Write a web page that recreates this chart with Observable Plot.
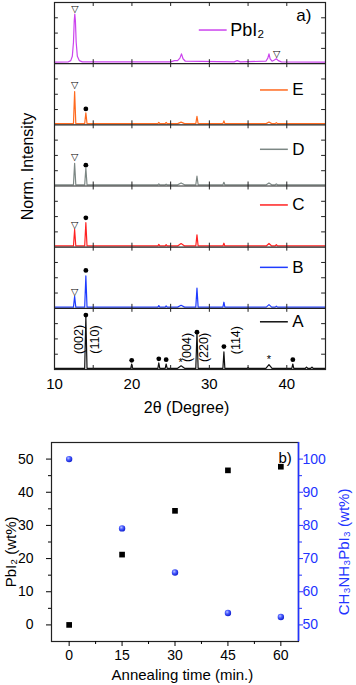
<!DOCTYPE html>
<html><head><meta charset="utf-8">
<script src="https://cdn.jsdelivr.net/npm/d3@7"></script>
<script src="https://cdn.jsdelivr.net/npm/@observablehq/plot@0.6"></script>
<style>body{margin:0;background:#fff;} svg{display:block;}</style>
</head><body><div id="chart"></div>
<script>
// ---------- Panel a) XRD patterns (bottom to top) ----------
const samples = ["A", "B", "C", "D", "E", "PbI2"];
const sampleLabels = ["A", "B", "C", "D", "E", "PbI₂"];
const sampleColors = ["#111111", "#1f3cff", "#ff2222", "#7c8784", "#ff6a1f", "#cc44ee"];

// [2θ (deg), normalized intensity within panel]
const patternA = [[10,0.02],[13.9,0.02],[14.05,0.86],[14.2,0.02],[19.85,0.02],[19.97,0.09],[20.1,0.02],[23.35,0.02],[23.47,0.11],[23.6,0.02],[24.3,0.02],[24.42,0.09],[24.55,0.02],[25.9,0.02],[26.35,0.06],[26.8,0.02],[28.25,0.02],[28.4,0.6],[28.55,0.02],[31.75,0.02],[31.88,0.29],[32.0,0.02],[34.9,0.02],[35.0,0.035],[35.1,0.02],[37.3,0.02],[37.7,0.08],[38.1,0.02],[40.65,0.02],[40.78,0.09],[40.9,0.02],[42.4,0.02],[42.55,0.04],[42.7,0.02],[43.1,0.02],[43.25,0.04],[43.4,0.02],[45,0.02]];
const patternB = [[10,0.02],[12.45,0.02],[12.6,0.195],[12.75,0.02],[13.9,0.02],[14.05,0.53],[14.2,0.02],[23.35,0.02],[23.47,0.045],[23.6,0.02],[24.3,0.02],[24.42,0.04],[24.55,0.02],[25.9,0.02],[26.35,0.05],[26.8,0.02],[28.25,0.02],[28.4,0.33],[28.55,0.02],[31.75,0.02],[31.88,0.1],[32.0,0.02],[37.35,0.02],[37.7,0.06],[38.05,0.02],[38.5,0.02],[38.65,0.035],[38.8,0.02],[45,0.02]];
const patternC = [[10,0.02],[12.45,0.02],[12.6,0.29],[12.75,0.02],[13.9,0.02],[14.05,0.40],[14.2,0.02],[23.35,0.02],[23.47,0.045],[23.6,0.02],[24.3,0.02],[24.42,0.04],[24.55,0.02],[25.9,0.02],[26.35,0.06],[26.8,0.02],[28.25,0.02],[28.4,0.20],[28.55,0.02],[31.75,0.02],[31.88,0.065],[32.0,0.02],[37.35,0.02],[37.7,0.06],[38.05,0.02],[38.5,0.02],[38.65,0.04],[38.8,0.02],[45,0.02]];
const patternD = [[10,0.02],[12.45,0.02],[12.6,0.37],[12.75,0.02],[13.9,0.02],[14.05,0.29],[14.2,0.02],[23.35,0.02],[23.47,0.035],[23.6,0.02],[24.3,0.02],[24.42,0.03],[24.55,0.02],[25.9,0.02],[26.35,0.05],[26.8,0.02],[28.25,0.02],[28.4,0.16],[28.55,0.02],[31.75,0.02],[31.88,0.06],[32.0,0.02],[37.35,0.02],[37.7,0.05],[38.05,0.02],[38.5,0.02],[38.65,0.035],[38.8,0.02],[45,0.02]];
const patternE = [[10,0.02],[12.45,0.02],[12.6,0.545],[12.75,0.02],[13.9,0.02],[14.05,0.196],[14.2,0.02],[23.35,0.02],[23.47,0.04],[23.6,0.02],[24.3,0.02],[24.42,0.04],[24.55,0.02],[25.9,0.02],[26.35,0.045],[26.8,0.02],[28.25,0.02],[28.4,0.14],[28.55,0.02],[31.75,0.02],[31.88,0.065],[32.0,0.02],[37.35,0.02],[37.7,0.045],[38.05,0.02],[38.5,0.02],[38.65,0.035],[38.8,0.02],[45,0.02]];
const patternPbI2 = [[10,0.025],[11.8,0.03],[12.1,0.05],[12.3,0.12],[12.45,0.35],[12.55,0.7],[12.62,0.81],[12.7,0.7],[12.8,0.35],[12.95,0.12],[13.2,0.05],[13.6,0.03],[25.0,0.03],[25.5,0.05],[25.9,0.05],[26.2,0.09],[26.4,0.16],[26.6,0.08],[26.9,0.04],[33.2,0.03],[33.6,0.05],[34.0,0.03],[37.3,0.04],[37.55,0.09],[37.7,0.16],[37.85,0.08],[38.1,0.04],[38.4,0.06],[38.65,0.08],[38.9,0.05],[39.3,0.03],[45,0.025]];
const patterns = [patternA, patternB, patternC, patternD, patternE, patternPbI2];

// phase markers: [sample, 2θ, height in panel]
const pbi2Markers = [["PbI2",12.62,0.90],["PbI2",38.68,0.16],["E",12.6,0.65],["D",12.6,0.48],["C",12.6,0.37],["B",12.6,0.26]];
const perovskiteMarkers = [["E",14.05,0.26],["D",14.05,0.34],["C",14.05,0.48],["B",14.05,0.62],["A",14.05,0.89],["A",19.97,0.15],["A",23.47,0.175],["A",24.42,0.16],["A",28.4,0.61],["A",31.88,0.375],["A",40.78,0.16]];
const starMarkers = [["A",26.3,0.16],["A",37.7,0.21]];
const hklLabels = [["(002)",13.1,0.49],["(110)",15.2,0.49],["(004)",27.15,0.36],["(220)",29.25,0.36],["(114)",33.5,0.48]];
const xTicksTop = [10, 20, 30, 40];
const xMinorTop = [15, 20, 25, 30, 35, 40];

// ---------- Panel b) wt% vs annealing time ----------
const annealTime = [0, 15, 30, 45, 60];
const pbi2Wt = [0, 21.2, 34.4, 46.6, 47.7];
const mapiWt = [100, 79.1, 65.8, 53.6, 52.4];
const timeTicks = [0, 15, 30, 45, 60];
const leftTicks = [0, 10, 20, 30, 40, 50];
const rightTicks = [50, 60, 70, 80, 90, 100];

const font = "'Liberation Sans', Arial, Helvetica, sans-serif";
const idx = s => samples.indexOf(s);

const rows = patterns.flatMap((p, i) => p.map(([deg, v]) => ({sample: samples[i], deg, y: i + v})));
const tickLen = 0.065; // ~4px in panel units
const bTicks = [];
for (let b = 0; b <= 6; b++) for (const d of xMinorTop) bTicks.push({x: d, y1: Math.max(0, b - tickLen), y2: Math.min(6, b + tickLen)});
const yTicks = [];
for (let i = 0; i < 6; i++) for (const f of [0.25, 0.5, 0.75]) yTicks.push(i + f);

const legendPos = {A: 0.78, B: 0.67, C: 0.69, D: 0.60, E: 0.57, PbI2: 0.55};
const legendRows = samples.map((s, i) => ({
  sample: s, label: sampleLabels[i], y: i + legendPos[s],
  x1: s === "PbI2" ? 28.7 : 36.6, x2: s === "PbI2" ? 32.3 : 40.2,
  xt: s === "PbI2" ? 32.7 : 40.7, fs: s === "PbI2" ? 18 : 17
}));

const topChart = Plot.plot({
  width: 356, height: 425,
  marginTop: 2, marginBottom: 56, marginLeft: 54, marginRight: 31,
  x: {domain: [10, 45]},
  y: {domain: [0, 6], axis: null},
  color: {domain: samples, range: sampleColors},
  style: {fontFamily: font, fontSize: "15px", color: "black", background: "white"},
  marks: [
    Plot.line(rows, {x: "deg", y: "y", z: "sample", stroke: "sample", strokeWidth: 1.2}),
    Plot.ruleY([1, 2, 3, 4, 5], {stroke: "#222", strokeWidth: 1.2}),
    Plot.frame({stroke: "#222", strokeWidth: 1.2}),
    Plot.ruleX(bTicks, {x: "x", y1: "y1", y2: "y2", stroke: "#222"}),
    Plot.ruleY(yTicks, {x1: 10, x2: 10.5, stroke: "#222"}),
    Plot.ruleY(yTicks, {x1: 44.5, x2: 45, stroke: "#222"}),
    Plot.axisX({ticks: xTicksTop, tickSize: 0, tickPadding: 9, fontSize: 15, label: null}),
    Plot.text(["2θ (Degree)"], {frameAnchor: "bottom", x: () => 27.05, dy: 38, fontSize: 16, lineAnchor: "middle"}),
    Plot.text(["Norm. Intensity"], {frameAnchor: "left", y: () => 3.32, dx: -27, rotate: -90, fontSize: 16, textAnchor: "middle", lineAnchor: "middle"}),
    Plot.ruleY(legendRows, {y: "y", x1: "x1", x2: "x2", stroke: "sample", strokeWidth: 1.5}),
    Plot.text(legendRows, {y: "y", x: "xt", text: "label", textAnchor: "start", fontSize: "fs"}),
    Plot.text(["a)"], {x: () => 42.2, y: () => 5.78, fontSize: 17}),
    Plot.text(pbi2Markers, {x: d => d[1], y: d => idx(d[0]) + d[2], text: () => "▽", fontSize: 9.5, fontFamily: "DejaVu Sans"}),
    Plot.dot(perovskiteMarkers, {x: d => d[1], y: d => idx(d[0]) + d[2], r: 2.4, fill: "black"}),
    Plot.text(starMarkers, {x: d => d[1], y: d => idx(d[0]) + d[2], text: () => "*", fontSize: 11, dy: 3}),
    Plot.text(hklLabels, {x: d => d[1], y: d => idx("A") + d[2], text: d => d[0], rotate: -90, fontSize: 12.5})
  ]
});

const blue = "#2233ff";
const bottomPts = annealTime.map((t, i) => ({t, pbi2: pbi2Wt[i], mapi: mapiWt[i]}));
const bottomChart = Plot.plot({
  width: 356, height: 260,
  marginTop: 17, marginBottom: 44, marginLeft: 51, marginRight: 58,
  x: {domain: [-5, 65]},
  y: {domain: [-5, 55]},
  style: {fontFamily: font, fontSize: "14px", color: "black", background: "white"},
  marks: [
    Plot.frame({stroke: "#222", strokeWidth: 1.2}),
    Plot.ruleX([65], {stroke: blue, strokeWidth: 1.6}),
    Plot.axisX({ticks: timeTicks, tickSize: 5, tickPadding: 4, fontSize: 14, label: null}),
    Plot.axisX({ticks: [7.5, 22.5, 37.5, 52.5], tickSize: 3, tickFormat: () => "", label: null}),
    Plot.axisY({ticks: leftTicks, tickSize: 5, tickPadding: 13, fontSize: 14, label: null}),
    Plot.axisY({ticks: [5, 15, 25, 35, 45], tickSize: 3, tickFormat: () => "", label: null}),
    Plot.axisY({anchor: "right", ticks: rightTicks.map(v => v - 50), tickFormat: d => d + 50, tickSize: 4, tickPadding: 0, fontSize: 14, color: blue, label: null}),
    Plot.axisY({anchor: "right", ticks: [5, 15, 25, 35, 45], tickSize: 3, tickFormat: () => "", color: blue, label: null}),
    Plot.dot(bottomPts, {x: "t", y: "pbi2", symbol: "square", r: 3.2, fill: "black"}),
    Plot.dot(bottomPts, {x: "t", y: d => d.mapi - 50, r: 3.2, fill: "url(#sphere)"}),
    Plot.text(["b)"], {x: () => 61.2, y: () => 50.3, fontSize: 15}),
    Plot.text(["Annealing time (min.)"], {frameAnchor: "bottom", x: () => 32.1, dy: 34, fontSize: 15, lineAnchor: "middle"}),
    Plot.text(["PbI₂ (wt%)"], {frameAnchor: "left", y: () => 22, dx: -40, rotate: -90, fontSize: 15, textAnchor: "middle", lineAnchor: "middle"}),
    Plot.text(["CH₃NH₃PbI₃ (wt%)"], {frameAnchor: "right", y: () => 22, dx: 46, rotate: -90, fontSize: 15, fill: blue, textAnchor: "middle", lineAnchor: "middle"})
  ]
});
d3.select(bottomChart).insert("defs", ":first-child").html(
  '<radialGradient id="sphere" cx="38%" cy="35%" r="65%"><stop offset="0" stop-color="#b8c4ff"/><stop offset="0.45" stop-color="#4a5cff"/><stop offset="1" stop-color="#1020d0"/></radialGradient>'
);

document.getElementById("chart").append(topChart, bottomChart);
</script>
</body></html>
